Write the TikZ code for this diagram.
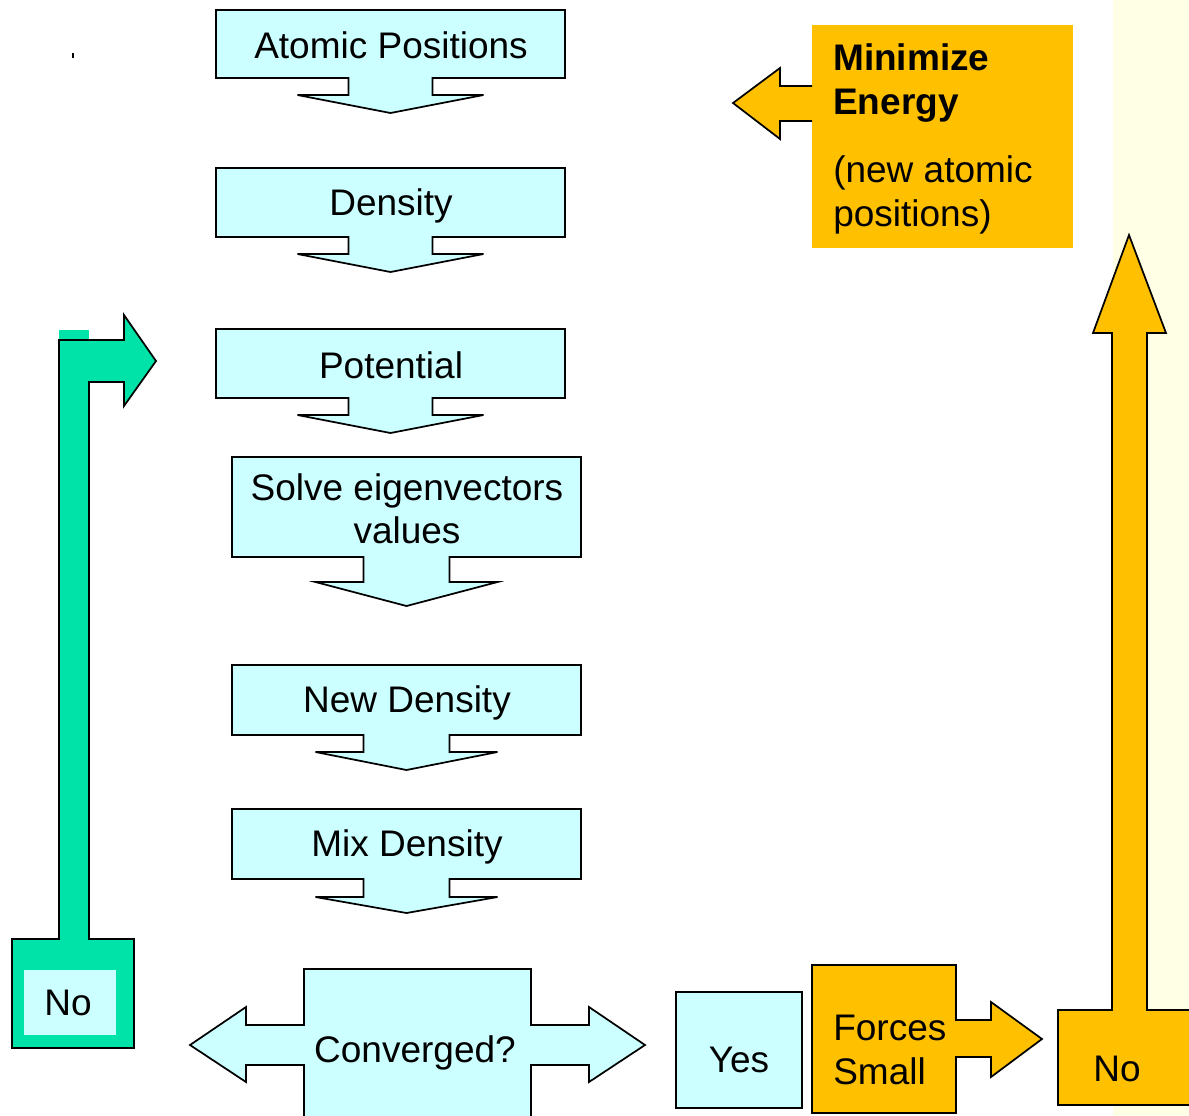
\documentclass[tikz,border=0pt]{standalone}
\usepackage{fontspec}
\setmainfont{Liberation Sans}
\definecolor{cyanfill}{HTML}{CCFFFF}
\definecolor{greenfill}{HTML}{00E3A8}
\definecolor{orangefill}{HTML}{FFC000}
\definecolor{creamfill}{HTML}{FFFFE6}
\tikzset{
  callbox/.style={draw=black,fill=cyanfill,line width=1.3pt,line join=miter},
  greenshape/.style={draw=black,fill=greenfill,line width=1.3pt,line join=miter},
  orangeshape/.style={draw=black,fill=orangefill,line width=1.3pt,line join=miter},
  lbl/.style={font=\fontsize{27.75}{32.5}\selectfont,align=center,inner sep=0pt},
  lbll/.style={font=\fontsize{27.75}{32.5}\selectfont,align=left,inner sep=0pt,anchor=west},
}
% #1 left, #2 top, #3 right, #4 bottom, #5 stem half width, #6 head half width, #7 stem length, #8 tip length
\newcommand\downcall[8]{%
  \pgfmathsetmacro\cx{(#1+#3)/2}%
  \draw[callbox] (#1,#2) -- (#3,#2) -- (#3,#4) -- (\cx+#5,#4) -- (\cx+#5,#4+#7)
    -- (\cx+#6,#4+#7) -- (\cx,#4+#8) -- (\cx-#6,#4+#7) -- (\cx-#5,#4+#7)
    -- (\cx-#5,#4) -- (#1,#4) -- cycle;}
\begin{document}
\begin{tikzpicture}[x=0.75pt,y=-0.75pt]
\useasboundingbox (0,0) rectangle (1189,1115);
\clip (0,0) rectangle (1189,1115);
% background strip
\fill[creamfill] (1113,-5) rectangle (1195,1120);
% tiny mark
\draw[line width=0.8pt] (73,53) -- (73,58);
% flow boxes
\downcall{216}{10}{565}{78}{42}{93}{17}{35}
\downcall{216}{168}{565}{237}{42}{93}{17}{35}
\downcall{216}{329}{565}{398}{42}{93}{17}{35}
\downcall{232}{457}{581}{557}{43}{91}{25}{49}
\downcall{232}{665}{581}{735}{43}{91}{17}{35}
\downcall{232}{809}{581}{879}{43}{91}{18}{34}
\node[lbl] (atom) at (391,45) {Atomic Positions};
\node[lbl] (dens) at (391,206) {Density};
\node[lbl] (pot) at (391,365) {Potential};
\node[lbl] (solve) at (407,509) {Solve eigenvectors\\values};
\node[lbl] (newd) at (407,703) {New Density};
\node[lbl] (mixd) at (407,847) {Mix Density};
% converged double arrow
\draw[callbox] (304,1120) -- (304,1065) -- (246,1065) -- (246,1082) -- (190,1045)
  -- (246,1007) -- (246,1025) -- (304,1025) -- (304,969) -- (531,969) -- (531,1025)
  -- (589,1025) -- (589,1007) -- (645,1045) -- (589,1082) -- (589,1065) -- (531,1065)
  -- (531,1120);
\node[lbl] (conv) at (415,1053) {Converged?};
% green No loop
\fill[greenfill] (59,330) rectangle (89,341);
\draw[greenshape] (12,1048) -- (12,939) -- (59,939) -- (59,340) -- (124,340) -- (124,315)
  -- (156,361) -- (124,406) -- (124,382) -- (89,382) -- (89,939) -- (134,939)
  -- (134,1048) -- cycle;
\fill[cyanfill] (24,970) rectangle (116,1035);
\node[lbl] (nog) at (68,1003) {No};
% Yes box
\draw[callbox] (676,992) rectangle (802,1108);
\node[lbl] (yes) at (739,1060) {Yes};
% Forces small
\draw[orangeshape] (812,1113) -- (812,965) -- (956,965) -- (956,1020) -- (991,1020)
  -- (991,1002) -- (1042,1039) -- (991,1077) -- (991,1057) -- (956,1057) -- (956,1113) -- cycle;
\node[lbll] (forces) at (833,1050) {Forces\\Small};
% orange No with up arrow
\draw[orangeshape] (1200,1105) -- (1058,1105) -- (1058,1010) -- (1112,1010) -- (1112,333)
  -- (1093,333) -- (1129,235) -- (1166,333) -- (1147,333) -- (1147,1010) -- (1200,1010);
\node[lbl] (noo) at (1117,1069) {No};
% Minimize energy box
\fill[orangefill] (812,25) rectangle (1073,248);
\fill[orangefill] (813,86) -- (780,86) -- (780,68) -- (733,103) -- (780,139) -- (780,121) -- (813,121) -- cycle;
\draw[line width=1.3pt,line join=miter] (812,86) -- (780,86) -- (780,68) -- (733,103) -- (780,139) -- (780,121) -- (812,121);
\node[lbll,font=\fontsize{27.75}{32.5}\bfseries] (mine) at (833,83) {Minimize\\Energy};
\node[lbll] (newpos) at (833,195) {(new atomic\\positions)};
\end{tikzpicture}
\end{document}
